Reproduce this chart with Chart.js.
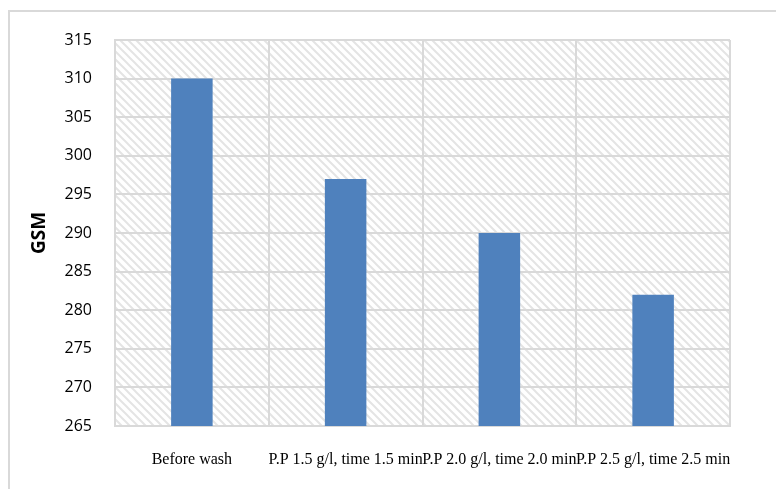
<!DOCTYPE html>
<html>
<head>
<meta charset="utf-8">
<script src="https://cdn.jsdelivr.net/npm/chart.js@4"></script>
<style>
    html, body { margin: 0; padding: 0; background: #fff; }
    #wrap { width: 776px; height: 489px; }
</style>
</head>
<body>
<div id="wrap"><canvas id="gsm-chart" width="776" height="489"></canvas></div>
<script>
const categories = ['Before wash', 'P.P 1.5 g/l, time 1.5 min', 'P.P 2.0 g/l, time 2.0 min', 'P.P 2.5 g/l, time 2.5 min'];
const gsmValues = [310, 297, 290, 282];
const yTicks = [265, 270, 275, 280, 285, 290, 295, 300, 305, 310, 315];

function makeHatch() {
    const c = document.createElement('canvas');
    c.width = 8;
    c.height = 8;
    const g = c.getContext('2d');
    g.strokeStyle = '#e4e4e4';
    g.lineWidth = 2;
    g.beginPath();
    g.moveTo(-2, -2); g.lineTo(10, 10);
    g.moveTo(-2, 6); g.lineTo(2, 10);
    g.moveTo(6, -2); g.lineTo(10, 2);
    g.stroke();
    return c;
}

const backdrop = {
    id: 'backdrop',
    beforeDraw(chart) {
        const ctx = chart.ctx;
        const a = chart.chartArea;
        ctx.save();
        ctx.strokeStyle = '#d9d9d9';
        ctx.lineWidth = 2;
        ctx.strokeRect(9, 11, 790, 500);
        ctx.fillStyle = ctx.createPattern(makeHatch(), 'repeat');
        ctx.fillRect(a.left, a.top, a.right - a.left, a.bottom - a.top);
        ctx.restore();
    }
};

const ctx = document.getElementById('gsm-chart').getContext('2d');
new Chart(ctx, {
    type: 'bar',
    data: {
        labels: categories,
        datasets: [{
            label: 'GSM',
            data: gsmValues,
            backgroundColor: '#4f81bd',
            borderWidth: 0,
            categoryPercentage: 1,
            barPercentage: 0.27
        }]
    },
    options: {
        responsive: false,
        animation: false,
        layout: { padding: { top: 40, right: 46, left: 0, bottom: 0 } },
        scales: {
            x: {
                afterFit(scale) { scale.height = 63; },
                ticks: {
                    autoSkip: false,
                    maxRotation: 0,
                    minRotation: 0,
                    padding: 24,
                    color: '#000',
                    font: { family: 'Liberation Serif', size: 16 }
                },
                grid: { color: '#d9d9d9', lineWidth: 2, drawTicks: false },
                border: { color: '#d9d9d9', width: 2 }
            },
            y: {
                min: 265,
                max: 315,
                afterFit(scale) { scale.width = 115; },
                afterBuildTicks(scale) { scale.ticks = yTicks.map(v => ({ value: v })); },
                ticks: {
                    padding: 23,
                    color: '#000',
                    font: { family: 'Open Sans', size: 16 }
                },
                grid: { color: '#d9d9d9', lineWidth: 2, drawTicks: false },
                border: { color: '#d9d9d9', width: 2 },
                title: {
                    display: true,
                    text: 'GSM',
                    color: '#000',
                    padding: { top: 28, bottom: 0 },
                    font: { family: 'Open Sans', size: 19, weight: 'bold' }
                }
            }
        },
        plugins: {
            legend: { display: false },
            tooltip: { enabled: false }
        }
    },
    plugins: [backdrop]
});
</script>
</body>
</html>
